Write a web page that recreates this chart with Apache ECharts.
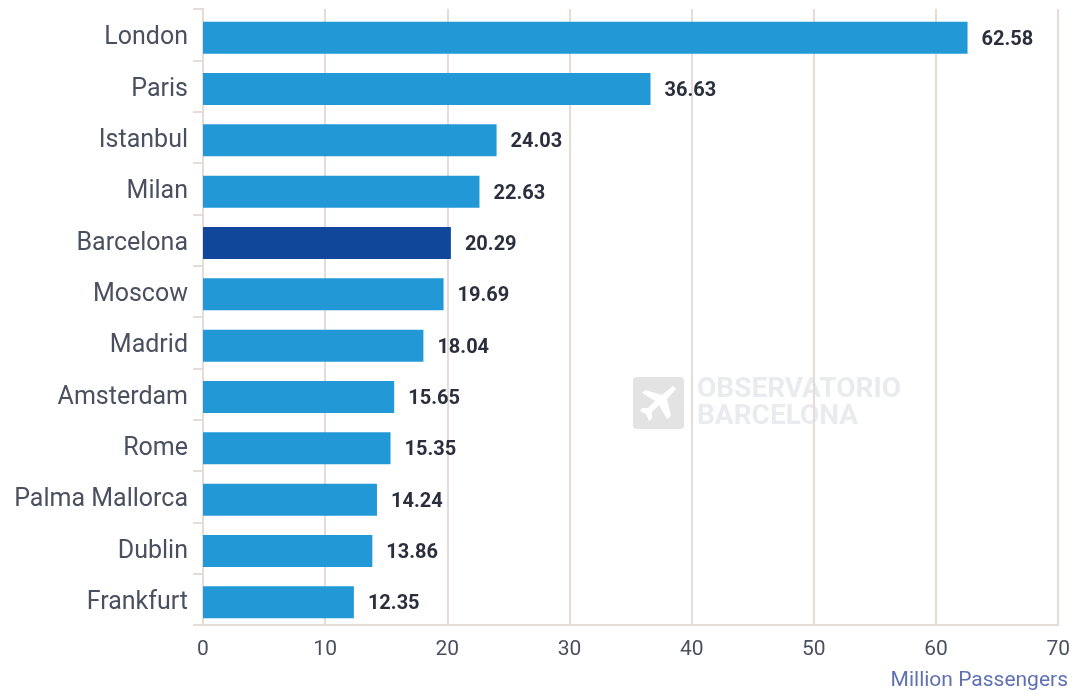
<!DOCTYPE html>
<html>
<head>
<meta charset="utf-8">
<style>
  html, body { margin: 0; padding: 0; background: #fff; }
  #chart { width: 1073px; height: 691px; }
</style>
<script src="https://cdn.jsdelivr.net/npm/echarts@6/dist/echarts.min.js"></script>
</head>
<body>
<div id="chart"></div>
<script>
const cities = ["London", "Paris", "Istanbul", "Milan", "Barcelona", "Moscow", "Madrid", "Amsterdam", "Rome", "Palma Mallorca", "Dublin", "Frankfurt"];
const passengers = [62.58, 36.63, 24.03, 22.63, 20.29, 19.69, 18.04, 15.65, 15.35, 14.24, 13.86, 12.35];
const highlightCity = "Barcelona";
const xTicks = { min: 0, max: 70, interval: 10 };

const lineColor = "#e5dcd8";
const textColor = "#4b5060";
const fontName = "Roboto";

function barColor(i) {
  return cities[i] === highlightCity ? "#10479a" : "#2398d6";
}

const chartInstance = echarts.init(document.getElementById("chart"));
chartInstance.setOption({
  animation: false,
  grid: { left: 203, top: 9, width: 856, height: 616 },
  xAxis: {
    type: "value",
    min: xTicks.min,
    max: xTicks.max,
    interval: xTicks.interval,
    axisLine: { show: true, lineStyle: { color: lineColor, width: 2 } },
    axisTick: { show: false },
    splitLine: { show: true, lineStyle: { color: lineColor, width: 2 } },
    axisLabel: { color: textColor, fontFamily: fontName, fontSize: 21, margin: 14 },
  },
  yAxis: {
    type: "category",
    inverse: true,
    data: cities,
    axisLine: { show: true, lineStyle: { color: lineColor, width: 2 } },
    axisTick: { show: true, length: 10, lineStyle: { color: lineColor, width: 2 } },
    // top aligned with a small line height, sits the names a few px under the band middle
    axisLabel: { color: textColor, fontFamily: fontName, fontSize: 25, margin: 15, interval: 0, verticalAlign: "top", lineHeight: 7 },
  },
  series: [
    // empty series, only pushes the bars a bit below the middle of each band
    { type: "bar", barWidth: 6, barGap: 0, data: [] },
    {
      type: "bar",
      barWidth: 32,
      barGap: 0,
      data: passengers.map((v, i) => ({
        value: v,
        itemStyle: { color: barColor(i) },
      })),
      label: {
        show: true,
        position: "right",
        distance: 14,
        offset: [0, 2],
        formatter: (p) => p.value.toFixed(2),
        color: "#2b2f3d",
        fontFamily: fontName,
        fontWeight: "bold",
        fontSize: 20,
      },
    },
  ],
  graphic: [
    // watermark
    { type: "rect", z: -1, shape: { x: 633, y: 377, width: 51, height: 52, r: 4 }, style: { fill: "#e3e3e3" } },
    {
      type: "polygon",
      z: -1,
      shape: {
        points: [[673, 386], [676, 389], [667, 399], [671, 416], [667, 419], [659, 405], [652, 412], [652, 419], [649, 421], [646, 414], [640, 411], [642, 408], [648, 408], [655, 401], [642, 393], [645, 390], [662, 395]],
      },
      style: { fill: "#ffffff" },
    },
    {
      type: "text",
      z: -1,
      x: 697,
      y: 376,
      style: { text: "OBSERVATORIO", fill: "#e9ebee", font: "bold 28px Roboto" },
    },
    {
      type: "text",
      z: -1,
      x: 697,
      y: 403,
      style: { text: "BARCELONA", fill: "#e9ebee", font: "bold 28px Roboto" },
    },
    {
      type: "text",
      right: 5,
      top: 670,
      style: { text: "Million Passengers", fill: "#5f71b3", font: "21px Roboto" },
    },
  ],
});
</script>
</body>
</html>
